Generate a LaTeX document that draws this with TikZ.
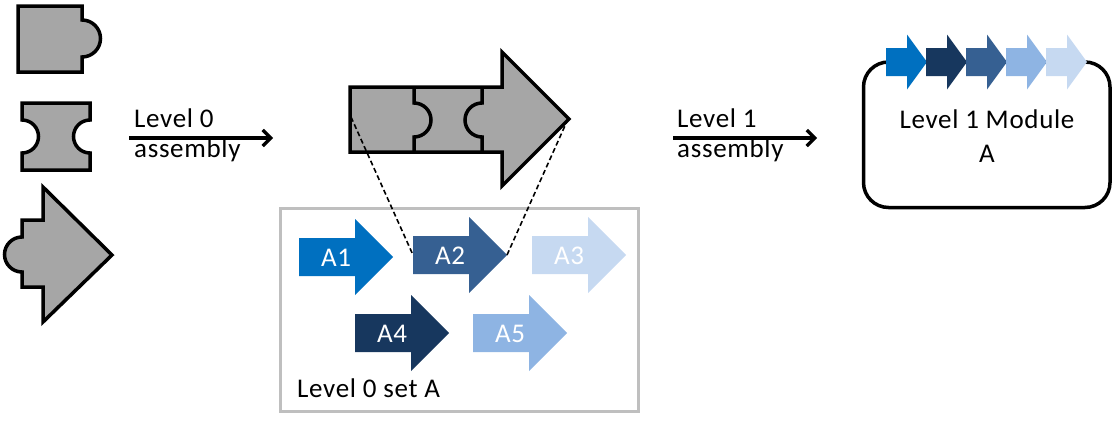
\documentclass[tikz,border=0pt]{standalone}
\usepackage{fontspec}
\setmainfont{Carlito}[LetterSpace=2.5]
\usetikzlibrary{arrows.meta}
\definecolor{cA}{HTML}{0070C0}
\definecolor{cB}{HTML}{366092}
\definecolor{cC}{HTML}{C6D9F1}
\definecolor{cD}{HTML}{17375E}
\definecolor{cE}{HTML}{8EB4E3}
\definecolor{piecegray}{HTML}{A6A6A6}
\definecolor{boxgray}{HTML}{BFBFBF}
\tikzset{
  piece/.style={fill=piecegray,draw=black,line width=3.5pt,line join=miter},
  divider/.style={draw=black,line width=3.5pt},
  txt/.style={font=\fontsize{27}{32}\selectfont,inner sep=0pt,text=black},
  lbl/.style={font=\fontsize{27}{32}\selectfont,inner sep=0pt,text=white,anchor=base},
  levelarrow/.style={line width=3.2pt,-{Straight Barb[length=8pt,width=16pt,line width=3.2pt]}},
  zoomline/.style={dashed,dash pattern=on 5pt off 3pt,line width=1.6pt},
  pics/bigarrow/.style={code={
    \path[pic actions] (0,-19) -- (56,-19) -- (56,-38) -- (94,0) -- (56,38) -- (56,19) -- (0,19) -- cycle;
    \coordinate (-left) at (0,0);
    \coordinate (-tip) at (94,0);
  }},
  pics/smallarrow/.style={code={
    \path[pic actions] (0,-14) -- (21,-14) -- (21,-27.5) -- (41,0) -- (21,27.5) -- (21,14) -- (0,14) -- cycle;
  }}
}
\begin{document}
\begin{tikzpicture}[x=1pt,y=-1pt]
\useasboundingbox (0,0) rectangle (1113,423);
% left pieces
\path[piece] (18,6) -- (82,6) -- (82,20) arc[start angle=-90,end angle=90,radius=18.5] -- (82,72) -- (18,72) -- cycle;
\path[piece] (22,103) -- (90,103) -- (90,120) arc[start angle=-90,end angle=-270,radius=16.5] -- (90,170) -- (22,170) -- (22,153) arc[start angle=90,end angle=-90,radius=16.5] -- cycle;
\path[piece] (43,187) -- (112,255) -- (43,322) -- (43,287) -- (22,287) -- (22,272) arc[start angle=90,end angle=270,radius=17.5] -- (22,220) -- (43,220) -- cycle;
% level 0 assembly
\coordinate (l0s) at (129,138);
\coordinate (l0e) at (273,138);
\draw[levelarrow] (l0s) -- (l0e);
\node[txt,anchor=base west] (l0a) at (134,127) {Level 0};
\node[txt,anchor=base west] (l0b) at (134,157) {assembly};
% assembled arrow
\path[piece] (350,87) -- (502,87) -- (502,52) -- (569,119) -- (502,186) -- (502,152) -- (350,152) -- cycle;
\draw[divider] (414,87) -- (414,103) arc[start angle=-90,end angle=90,radius=17] -- (414,152);
\draw[divider] (482,87) -- (482,103) arc[start angle=-90,end angle=-270,radius=17] -- (482,152);
\coordinate (mL) at (351,117);
\coordinate (mT) at (568,119);
% level 0 set box
\draw[boxgray,line width=3pt] (280,208) rectangle (638,411);
\pic[fill=cA] (a1) at (299,257) {bigarrow};
\pic[fill=cB] (a2) at (413,255) {bigarrow};
\pic[fill=cC] (a3) at (532,255) {bigarrow};
\pic[fill=cD] (a4) at (355,333) {bigarrow};
\pic[fill=cE] (a5) at (473,333) {bigarrow};
\node[lbl] (a1t) at (336,266) {A1};
\node[lbl] (a2t) at (450,264) {A2};
\node[lbl] (a3t) at (569,264) {A3};
\node[lbl] (a4t) at (392,342) {A4};
\node[lbl] (a5t) at (510,342) {A5};
\node[txt,anchor=base west] (setA) at (297,397) {Level 0 set A};
\draw[zoomline] (mL) -- (a2-left);
\draw[zoomline] (mT) -- (a2-tip);
% level 1 assembly
\coordinate (l1s) at (673,138);
\coordinate (l1e) at (817,138);
\draw[levelarrow] (l1s) -- (l1e);
\node[txt,anchor=base west] (l1a) at (677,127) {Level 1};
\node[txt,anchor=base west] (l1b) at (677,157) {assembly};
% module
\draw[line width=3.5pt,rounded corners=25pt] (863.5,62) rectangle (1110,207.5);
\pic[fill=cA] (m1) at (886,62) {smallarrow};
\pic[fill=cD] (m2) at (926,62) {smallarrow};
\pic[fill=cB] (m3) at (966,62) {smallarrow};
\pic[fill=cE] (m4) at (1006,62) {smallarrow};
\pic[fill=cC] (m5) at (1046,62) {smallarrow};
\node[txt,anchor=base] (modt) at (987,128) {Level 1 Module};
\node[txt,anchor=base] (moda) at (987,162) {A};
\end{tikzpicture}
\end{document}
